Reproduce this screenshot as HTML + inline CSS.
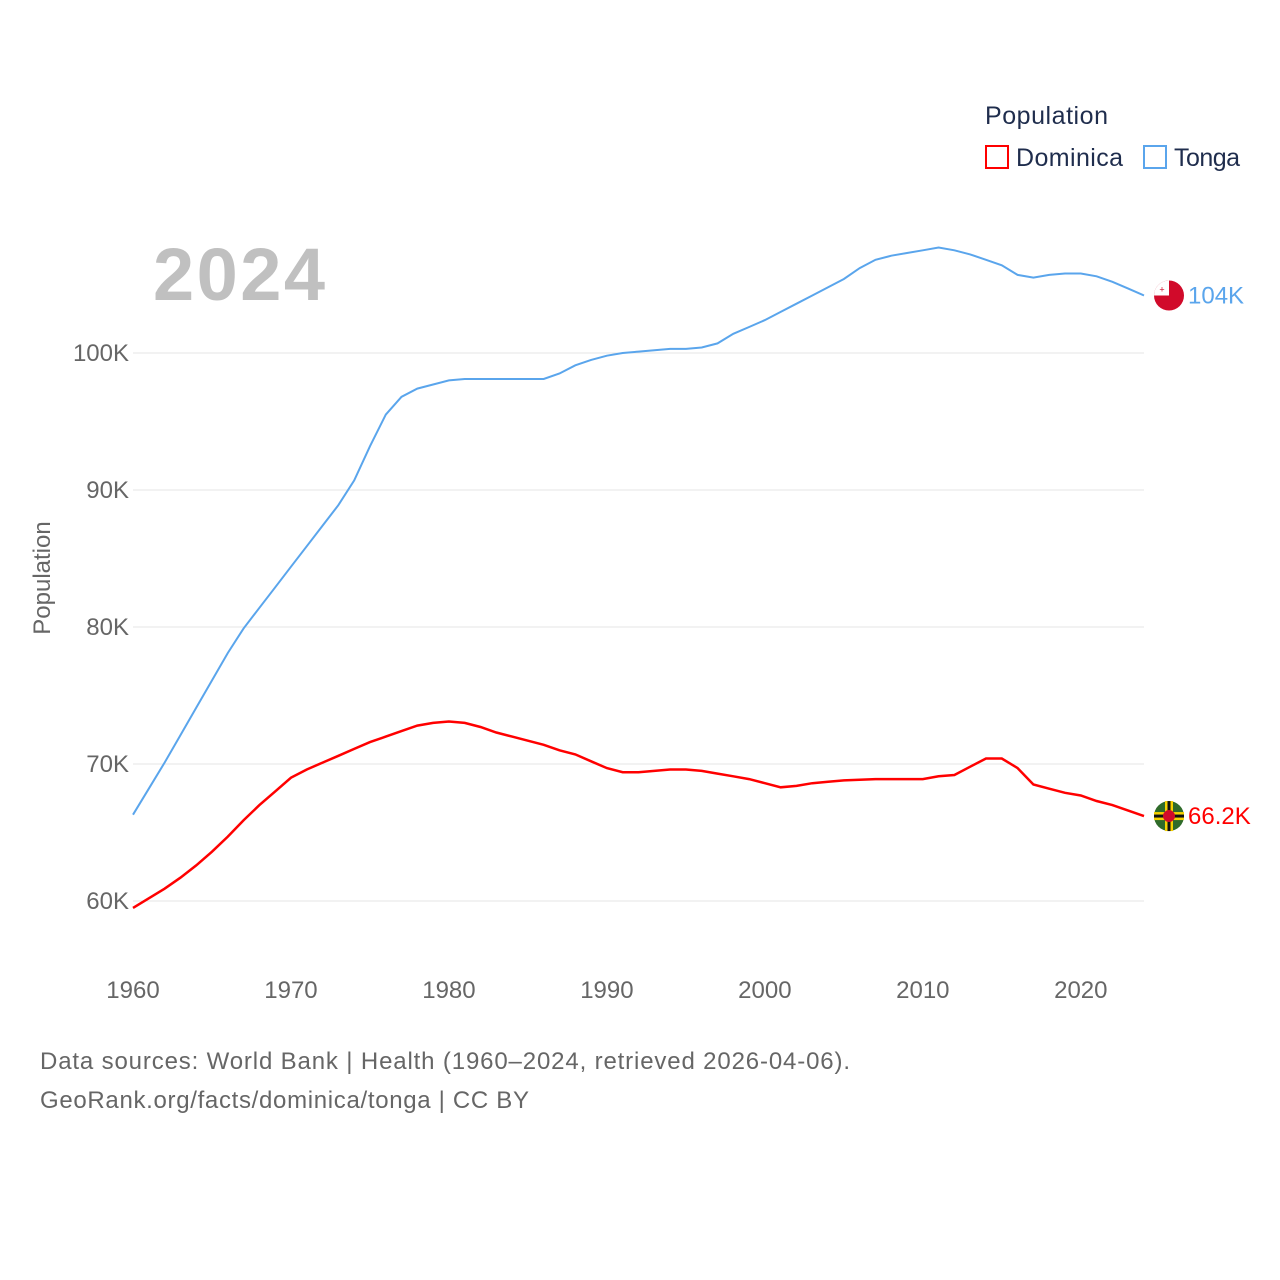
<!DOCTYPE html>
<html><head><meta charset="utf-8">
<style>
body{margin:0;background:#fff;font-family:"Liberation Sans",sans-serif;}
#wrap{position:relative;width:1280px;height:1280px;overflow:hidden;}
</style></head><body>
<div id="wrap">
<svg id="chart" width="1280" height="1280" xmlns="http://www.w3.org/2000/svg">
<text x="985" y="124" font-size="25" fill="#1f2d4d" textLength="123">Population</text>
<g><rect x="986" y="146" width="22" height="22" fill="none" stroke="#ff0000" stroke-width="2"/><text x="1016" y="166" font-size="25" fill="#1f2d4d" textLength="107">Dominica</text></g>
<g><rect x="1144" y="146" width="22" height="22" fill="none" stroke="#5aa5ec" stroke-width="2"/><text x="1174" y="166" font-size="25" fill="#1f2d4d" textLength="66">Tonga</text></g>
<text x="153" y="300" font-size="74" font-weight="bold" fill="#c0c0c0" textLength="172">2024</text>
<text transform="translate(50,578) rotate(-90)" text-anchor="middle" font-size="24" fill="#666">Population</text>
<g id="grid"></g><g id="yticks"></g><g id="xticks"></g><g id="lines"></g>
<text x="40" y="1069" font-size="24" fill="#666" textLength="810">Data sources: World Bank | Health (1960–2024, retrieved 2026-04-06).</text>
<text x="40" y="1108" font-size="24" fill="#666" textLength="489">GeoRank.org/facts/dominica/tonga | CC BY</text>
</svg>
</div>
<script>
const years=[];for(let y=1960;y<=2024;y++)years.push(y);
const tonga=[66.3,68.2,70.1,72.1,74.1,76.1,78.1,79.9,81.4,82.9,84.4,85.9,87.4,88.9,90.7,93.2,95.5,96.8,97.4,97.7,98.0,98.1,98.1,98.1,98.1,98.1,98.1,98.5,99.1,99.5,99.8,100.0,100.1,100.2,100.3,100.3,100.4,100.7,101.4,101.9,102.4,103.0,103.6,104.2,104.8,105.4,106.2,106.8,107.1,107.3,107.5,107.7,107.5,107.2,106.8,106.4,105.7,105.5,105.7,105.8,105.8,105.6,105.2,104.7,104.2];
const dominica=[59.5,60.2,60.9,61.7,62.6,63.6,64.7,65.9,67.0,68.0,69.0,69.6,70.1,70.6,71.1,71.6,72.0,72.4,72.8,73.0,73.1,73.0,72.7,72.3,72.0,71.7,71.4,71.0,70.7,70.2,69.7,69.4,69.4,69.5,69.6,69.6,69.5,69.3,69.1,68.9,68.6,68.3,68.4,68.6,68.7,68.8,68.85,68.9,68.9,68.9,68.9,69.1,69.2,69.8,70.4,70.4,69.7,68.5,68.2,67.9,67.7,67.3,67.0,66.6,66.2];
const yTicks=[60,70,80,90,100];
const xTicks=[1960,1970,1980,1990,2000,2010,2020];
const endLabels=["104K","66.2K"];
const X=y=>133+(y-1960)*(1144-133)/64;
const Y=v=>901-(v-60)*(901-353)/40;
const NS="http://www.w3.org/2000/svg";
function mk(tag,attrs,parent,text){const e=document.createElementNS(NS,tag);for(const k in attrs)e.setAttribute(k,attrs[k]);if(text!==undefined)e.textContent=text;parent.appendChild(e);return e;}
const grid=document.getElementById('grid'),yt=document.getElementById('yticks'),xt=document.getElementById('xticks'),ln=document.getElementById('lines');
yTicks.forEach(v=>{
 const l=mk('line',{x1:133,x2:1144,y1:Y(v),y2:Y(v),stroke:'#e6e6e6','stroke-width':1},grid);
 
 
 const t=mk('text',{x:129,y:Y(v)+8,'text-anchor':'end','font-size':24,fill:'#666'},yt,v+'K');
 
 
});
xTicks.forEach(v=>{
 const t=mk('text',{x:X(v),y:998,'text-anchor':'middle','font-size':24,fill:'#666'},xt,String(v));
 
 
});
function path(arr){return arr.map((v,i)=>(i?'L':'M')+X(years[i]).toFixed(1)+','+Y(v).toFixed(1)).join(' ');}
const pt=mk('path',{d:path(tonga),fill:'none',stroke:'#5aa5ec','stroke-width':2},ln);


const pd=mk('path',{d:path(dominica),fill:'none',stroke:'#ff0000','stroke-width':2.5},ln);


const tY=Y(tonga[tonga.length-1]),dY=Y(dominica[dominica.length-1]),fx=1169;
const ft=mk('g',{},ln);


mk('circle',{cx:fx,cy:tY,r:15,fill:'#d10a2a'},ft);
mk('path',{d:`M${fx-15},${tY} A15,15 0 0 1 ${fx},${tY-15} L${fx},${tY} Z`,fill:'#fff'},ft);
mk('text',{x:fx-7,y:tY-3,'font-size':9,fill:'#d10a2a','text-anchor':'middle'},ft,'+');
const fd=mk('g',{},ln);


mk('circle',{cx:fx,cy:dY,r:15,fill:'#2f6b2a'},fd);
mk('rect',{x:fx-15,y:dY-4,width:30,height:8,fill:'#f5d000'},fd);
mk('rect',{x:fx-4,y:dY-15,width:8,height:30,fill:'#f5d000'},fd);
mk('rect',{x:fx-15,y:dY-1.5,width:30,height:3,fill:'#111'},fd);
mk('rect',{x:fx-1.5,y:dY-15,width:3,height:30,fill:'#111'},fd);
mk('circle',{cx:fx,cy:dY,r:6,fill:'#d10a2a'},fd);
const lt=mk('text',{x:1188,y:tY+8,'font-size':24,fill:'#5aa5ec'},ln,endLabels[0]);


const ld=mk('text',{x:1188,y:dY+8,'font-size':24,fill:'#ff0000'},ln,endLabels[1]);


</script>
</body></html>
